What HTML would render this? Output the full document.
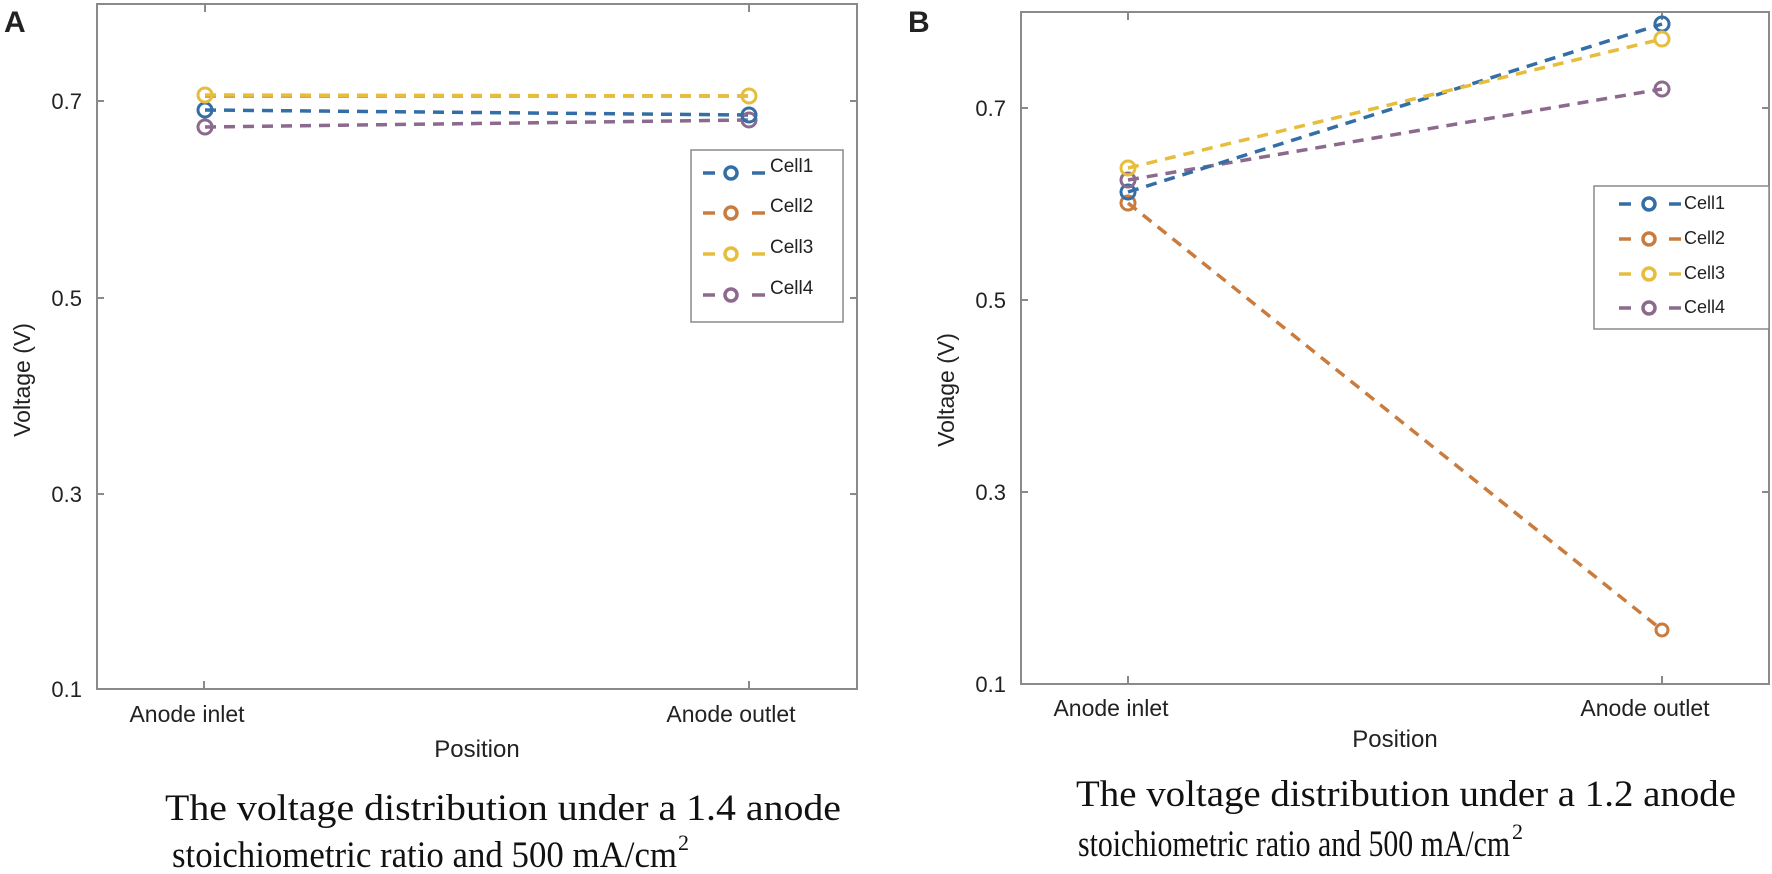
<!DOCTYPE html>
<html><head><meta charset="utf-8"><style>
html,body{margin:0;padding:0;background:#fff;}
svg{display:block;}
text{font-family:"Liberation Sans",sans-serif;fill:#222;}
.serif{font-family:"Liberation Serif",serif;fill:#111;}
</style></head><body>
<svg width="1772" height="874" viewBox="0 0 1772 874" xmlns="http://www.w3.org/2000/svg">
<!-- Panel A -->
<text x="4" y="32" font-size="30" font-weight="bold" fill="#000">A</text>
<rect x="97" y="4" width="760" height="685" fill="none" stroke="#8a8a8a" stroke-width="2"/>
<g stroke="#8a8a8a" stroke-width="2">
<line x1="97" y1="101" x2="104" y2="101"/><line x1="97" y1="298" x2="104" y2="298"/><line x1="97" y1="494" x2="104" y2="494"/>
<line x1="857" y1="101" x2="850" y2="101"/><line x1="857" y1="298" x2="850" y2="298"/><line x1="857" y1="494" x2="850" y2="494"/>
<line x1="204" y1="689" x2="204" y2="681"/><line x1="749" y1="689" x2="749" y2="681"/>
<line x1="205" y1="4" x2="205" y2="12"/><line x1="749" y1="4" x2="749" y2="12"/>
</g>
<g font-size="22" text-anchor="end">
<text x="82" y="109">0.7</text><text x="82" y="306">0.5</text><text x="82" y="502">0.3</text><text x="82" y="697">0.1</text>
</g>
<g font-size="23" text-anchor="middle">
<text x="187" y="722">Anode inlet</text><text x="731" y="722">Anode outlet</text>
<text x="477" y="757" font-size="24">Position</text>
</g>
<text transform="translate(30,380) rotate(-90)" font-size="23" text-anchor="middle">Voltage (V)</text>
<g fill="none" stroke-width="3.5" stroke-dasharray="11 8">
<line x1="205" y1="127" x2="749" y2="120" stroke="#8b6a8d"/>
<line x1="205" y1="110" x2="749" y2="115" stroke="#336ea6"/>
<line x1="205" y1="96" x2="749" y2="96" stroke="#c97c3e"/>
<line x1="205" y1="95" x2="749" y2="96" stroke="#e6bd3c"/>
</g>
<g fill="none" stroke-width="3">
<circle cx="205" cy="127" r="7" stroke="#8b6a8d"/><circle cx="749" cy="120" r="7" stroke="#8b6a8d"/>
<circle cx="205" cy="110" r="7" stroke="#336ea6"/><circle cx="749" cy="115" r="7" stroke="#336ea6"/>
<circle cx="205" cy="95" r="7" stroke="#e6bd3c"/><circle cx="749" cy="96" r="7" stroke="#e6bd3c"/>
</g>
<rect x="691" y="150" width="152" height="172" fill="#fff" stroke="#8a8a8a" stroke-width="1.5"/>
<g stroke-width="3.5" fill="none">
<g stroke="#336ea6"><line x1="703" y1="173" x2="715" y2="173"/><line x1="752" y1="173" x2="765" y2="173"/><circle cx="731" cy="173" r="6"/></g>
<g stroke="#c97c3e"><line x1="703" y1="213" x2="715" y2="213"/><line x1="752" y1="213" x2="765" y2="213"/><circle cx="731" cy="213" r="6"/></g>
<g stroke="#e6bd3c"><line x1="703" y1="254" x2="715" y2="254"/><line x1="752" y1="254" x2="765" y2="254"/><circle cx="731" cy="254" r="6"/></g>
<g stroke="#8b6a8d"><line x1="703" y1="295" x2="715" y2="295"/><line x1="752" y1="295" x2="765" y2="295"/><circle cx="731" cy="295" r="6"/></g>
</g>
<g font-size="19"><text x="770" y="172">Cell1</text><text x="770" y="212">Cell2</text><text x="770" y="253">Cell3</text><text x="770" y="294">Cell4</text></g>
<text class="serif" x="165" y="820" font-size="37" textLength="676" lengthAdjust="spacingAndGlyphs">The voltage distribution under a 1.4 anode</text>
<text class="serif" x="172" y="867" font-size="37" textLength="505" lengthAdjust="spacingAndGlyphs">stoichiometric ratio and 500 mA/cm</text>
<text class="serif" x="678" y="850" font-size="22">2</text>

<!-- Panel B -->
<text x="908" y="32" font-size="30" font-weight="bold" fill="#000">B</text>
<rect x="1021" y="12" width="748" height="672" fill="none" stroke="#8a8a8a" stroke-width="2"/>
<g stroke="#8a8a8a" stroke-width="2">
<line x1="1021" y1="108" x2="1028" y2="108"/><line x1="1021" y1="300" x2="1028" y2="300"/><line x1="1021" y1="492" x2="1028" y2="492"/>
<line x1="1769" y1="108" x2="1762" y2="108"/><line x1="1769" y1="300" x2="1762" y2="300"/><line x1="1769" y1="492" x2="1762" y2="492"/>
<line x1="1128" y1="684" x2="1128" y2="676"/><line x1="1662" y1="684" x2="1662" y2="676"/>
<line x1="1128" y1="12" x2="1128" y2="20"/><line x1="1662" y1="12" x2="1662" y2="20"/>
</g>
<g font-size="22" text-anchor="end">
<text x="1006" y="116">0.7</text><text x="1006" y="308">0.5</text><text x="1006" y="500">0.3</text><text x="1006" y="692">0.1</text>
</g>
<g font-size="23" text-anchor="middle">
<text x="1111" y="716">Anode inlet</text><text x="1645" y="716">Anode outlet</text>
<text x="1395" y="747" font-size="24">Position</text>
</g>
<text transform="translate(954,390) rotate(-90)" font-size="23" text-anchor="middle">Voltage (V)</text>
<g fill="none" stroke-width="3.5" stroke-dasharray="11 8">
<line x1="1128" y1="203" x2="1662" y2="630" stroke="#c97c3e"/>
<line x1="1128" y1="180" x2="1662" y2="89" stroke="#8b6a8d"/>
<line x1="1128" y1="192" x2="1662" y2="24" stroke="#336ea6"/>
<line x1="1128" y1="168" x2="1662" y2="39" stroke="#e6bd3c"/>
</g>
<g fill="none" stroke-width="3">
<circle cx="1128" cy="203" r="7" stroke="#c97c3e"/><circle cx="1662" cy="630" r="6" stroke="#c97c3e"/>
<circle cx="1128" cy="192" r="7" stroke="#336ea6"/><circle cx="1662" cy="24" r="7" stroke="#336ea6"/>
<circle cx="1128" cy="180" r="7" stroke="#8b6a8d"/><circle cx="1662" cy="89" r="7" stroke="#8b6a8d"/>
<circle cx="1128" cy="168" r="7" stroke="#e6bd3c"/><circle cx="1662" cy="39" r="7" stroke="#e6bd3c"/>
</g>
<rect x="1594" y="186" width="175" height="143" fill="#fff" stroke="#8a8a8a" stroke-width="1.5"/>
<g stroke-width="3.5" fill="none">
<g stroke="#336ea6"><line x1="1619" y1="204" x2="1631" y2="204"/><line x1="1669" y1="204" x2="1681" y2="204"/><circle cx="1649" cy="204" r="6"/></g>
<g stroke="#c97c3e"><line x1="1619" y1="239" x2="1631" y2="239"/><line x1="1669" y1="239" x2="1681" y2="239"/><circle cx="1649" cy="239" r="6"/></g>
<g stroke="#e6bd3c"><line x1="1619" y1="274" x2="1631" y2="274"/><line x1="1669" y1="274" x2="1681" y2="274"/><circle cx="1649" cy="274" r="6"/></g>
<g stroke="#8b6a8d"><line x1="1619" y1="308" x2="1631" y2="308"/><line x1="1669" y1="308" x2="1681" y2="308"/><circle cx="1649" cy="308" r="6"/></g>
</g>
<g font-size="18"><text x="1684" y="209">Cell1</text><text x="1684" y="244">Cell2</text><text x="1684" y="279">Cell3</text><text x="1684" y="313">Cell4</text></g>
<text class="serif" x="1076" y="806" font-size="37" textLength="660" lengthAdjust="spacingAndGlyphs">The voltage distribution under a 1.2 anode</text>
<text class="serif" x="1078" y="856" font-size="37" textLength="432" lengthAdjust="spacingAndGlyphs">stoichiometric ratio and 500 mA/cm</text>
<text class="serif" x="1512" y="839" font-size="22">2</text>
</svg>
</body></html>
